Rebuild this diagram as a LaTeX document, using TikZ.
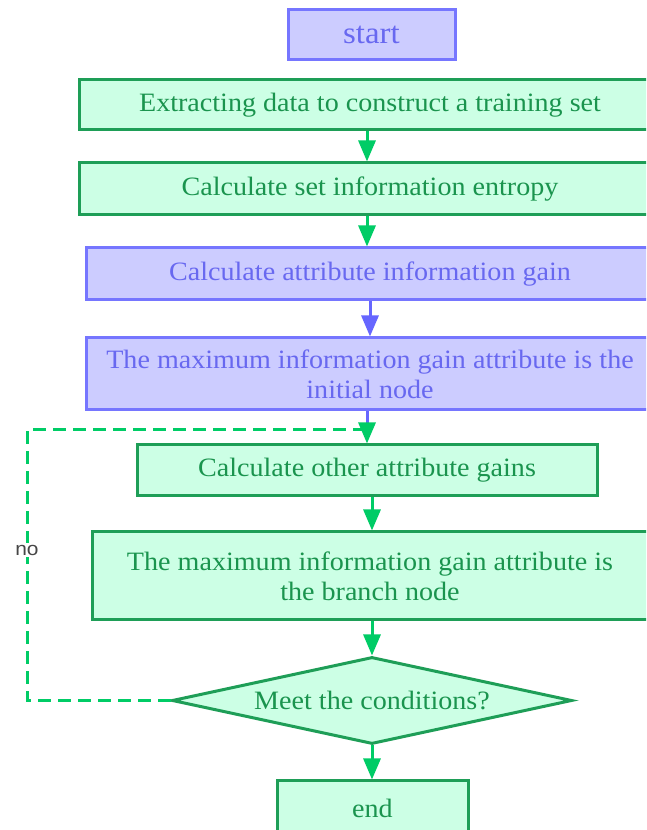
\documentclass[tikz,border=0pt]{standalone}
\usepackage{fontspec}
\setmainfont{Liberation Serif}[FakeStretch=1.06]
\newfontfamily\labelfont{Liberation Sans}[FakeStretch=1.1]
\usetikzlibrary{shapes.geometric,arrows.meta}

\definecolor{gfill}{RGB}{204,255,229}
\definecolor{gline}{RGB}{30,158,87}
\definecolor{gtext}{RGB}{26,148,78}
\definecolor{garrow}{RGB}{0,204,102}
\definecolor{bfill}{RGB}{204,204,255}
\definecolor{bline}{RGB}{118,118,255}
\definecolor{btext}{RGB}{104,104,240}
\definecolor{barrow}{RGB}{102,102,255}
\definecolor{nogray}{RGB}{70,70,70}

\tikzset{
  gbox/.style={draw=gline, fill=gfill, text=gtext, line width=3pt,
    rectangle, inner sep=0pt, align=center,
    font=\fontsize{26.5}{30}\selectfont},
  bbox/.style={draw=bline, fill=bfill, text=btext, line width=3pt,
    rectangle, inner sep=0pt, align=center,
    font=\fontsize{26.5}{30}\selectfont},
  decision/.style={gbox, diamond, aspect=4.6},
  garr/.style={draw=garrow, line width=3pt,
    -{Triangle[length=21pt,width=17pt]}},
  barr/.style={draw=barrow, line width=3pt,
    -{Triangle[length=21pt,width=17pt]}},
  loopline/.style={draw=garrow, line width=3pt, dash pattern=on 13pt off 7pt},
}

\begin{document}
\begin{tikzpicture}[x=1pt,y=1pt]
\useasboundingbox (0,0) rectangle (646,830);
\clip (0,0) rectangle (646,830);
\fill[white] (0,0) rectangle (646,830);

% process steps
\node[bbox, minimum width=167, minimum height=50,
      font=\fontsize{31}{30}\selectfont] (start) at (371.5,795) {start};
\node[gbox, minimum width=582, minimum height=50] (extract) at (370,725)
  {Extracting data to construct a training set};
\node[gbox, minimum width=582, minimum height=52] (entropy) at (370,641)
  {Calculate set information entropy};
\node[bbox, minimum width=568, minimum height=52] (gain) at (370,556)
  {Calculate attribute information gain};
\node[bbox, minimum width=568, minimum height=72] (initial) at (370,456)
  {The maximum information gain attribute is the\\initial node};
\node[gbox, minimum width=460, minimum height=51] (other) at (367,359.5)
  {Calculate other attribute gains};
\node[gbox, minimum width=556, minimum height=88] (branch) at (370,254)
  {The maximum information gain attribute is\\the branch node};
\node[decision, minimum width=400, minimum height=87] (cond) at (372,129.5)
  {Meet the conditions?};
\node[gbox, minimum width=191, minimum height=54] (finish) at (372.5,22) {end};

% connectors
\coordinate (join) at (367,400);
\coordinate (loopbl) at (27,129.5);
\coordinate (looptl) at (27,400);

\draw[garr] (extract.south -| 367,0) -- (entropy.north -| 367,0);
\draw[garr] (entropy.south -| 367,0) -- (gain.north -| 367,0);
\draw[barr] (gain.south) -- (initial.north);
\draw[draw=barrow, line width=3pt] (initial.south -| join) -- (join);
\draw[garr] (join) -- (other.north);
\draw[garr] (other.south -| 372,0) -- (branch.north -| 372,0);
\draw[garr] (branch.south -| cond.north) -- (cond.north);
\draw[garr] (cond.south) -- (finish.north -| cond.south);

% feedback loop when the condition fails
\draw[loopline] (cond.west) -- (loopbl) -- (looptl) -- (join);
\node[fill=white, text=nogray, inner sep=1.5pt,
      font=\labelfont\fontsize{19}{20}\selectfont] (no) at (27,280) {no};
\end{tikzpicture}
\end{document}
